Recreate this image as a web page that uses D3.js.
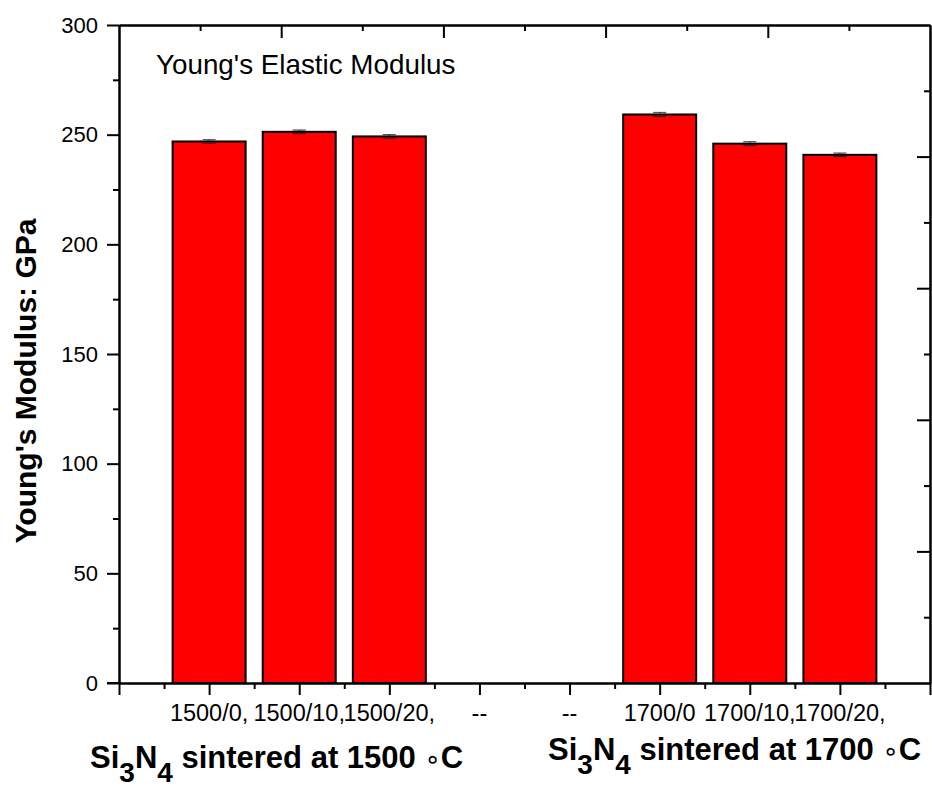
<!DOCTYPE html>
<html>
<head>
<meta charset="utf-8">
<script src="https://cdn.jsdelivr.net/npm/d3@7"></script>
<style>
  body { margin: 0; background: #fff; }
  svg { display: block; font-family: "Liberation Sans", Arial, sans-serif; }
</style>
</head>
<body>
<script>
// data
var categories = ["1500/0,", "1500/10,", "1500/20,", "--", "--", "1700/0", "1700/10,", "1700/20,"];
var positions = [1, 2, 3, 4, 5, 6, 7, 8];
var barPos = [1, 2, 3, 6, 7, 8];
var modulus = [246.9, 251.3, 249.2, 259.2, 245.9, 240.8];
var errors = [0.8, 0.8, 0.8, 0.9, 0.9, 0.8];
var yMajor = [0, 50, 100, 150, 200, 250, 300];
var yMinor = [25, 75, 125, 175, 225, 275];

var W = 932, H = 787;
var mLeft = 119, mRight = 930, mTop = 25, mBottom = 683;

var svg = d3.select("body")
  .append("svg")
  .attr("width", W)
  .attr("height", H);

var x = d3.scaleLinear().domain([0, 9]).range([mLeft, mRight]);
var y = d3.scaleLinear().domain([0, 300]).range([mBottom, mTop]);
// top / right mirror axes use 10 divisions
var xt = d3.scaleLinear().domain([0, 10]).range([mLeft, mRight]);
var yr = d3.scaleLinear().domain([0, 10]).range([mBottom, mTop]);

var barW = x(0.81) - x(0);

// bars
svg.selectAll("rect.bar")
  .data(modulus)
  .enter()
  .append("rect")
  .attr("class", "bar")
  .attr("x", function(d, i){ return x(barPos[i]) - barW / 2; })
  .attr("y", function(d){ return y(d); })
  .attr("width", barW)
  .attr("height", function(d){ return y(0) - y(d); })
  .attr("fill", "#ff0000")
  .attr("stroke", "#000")
  .attr("stroke-width", 2);

// error bars
var eb = svg.selectAll("g.err")
  .data(modulus)
  .enter()
  .append("g")
  .attr("class", "err")
  .attr("stroke", "#222")
  .attr("stroke-opacity", 0.75)
  .attr("stroke-width", 1.3);
eb.append("line")
  .attr("x1", function(d, i){ return x(barPos[i]); })
  .attr("x2", function(d, i){ return x(barPos[i]); })
  .attr("y1", function(d, i){ return y(d + errors[i]); })
  .attr("y2", function(d, i){ return y(d - errors[i]); });
eb.selectAll("line.cap")
  .data(function(d, i){ return [[i, d + errors[i]], [i, d - errors[i]]]; })
  .enter()
  .append("line")
  .attr("class", "cap")
  .attr("x1", function(d){ return x(barPos[d[0]]) - 6.5; })
  .attr("x2", function(d){ return x(barPos[d[0]]) + 6.5; })
  .attr("y1", function(d){ return y(d[1]); })
  .attr("y2", function(d){ return y(d[1]); });

function styleAxis(g){
  g.selectAll("path").attr("stroke", "#000").attr("stroke-width", 2);
  g.selectAll("line").attr("stroke", "#000").attr("stroke-width", 2);
  g.selectAll("text").attr("fill", "#000");
}

// left axis
svg.append("g")
  .attr("transform", "translate(" + mLeft + ",0)")
  .call(d3.axisLeft(y).tickValues(yMajor).tickSize(12).tickSizeOuter(0).tickPadding(9))
  .call(styleAxis)
  .attr("font-size", 22)
  .attr("font-family", "Liberation Sans, Arial, sans-serif");
svg.append("g")
  .attr("transform", "translate(" + mLeft + ",0)")
  .call(d3.axisLeft(y).tickValues(yMinor).tickSize(6).tickSizeOuter(0).tickFormat(""))
  .call(styleAxis);

// bottom axis
svg.append("g")
  .attr("transform", "translate(0," + mBottom + ")")
  .call(d3.axisBottom(x).tickValues(d3.range(0, 10)).tickSize(12).tickSizeOuter(0).tickFormat(""))
  .call(styleAxis);
svg.append("g")
  .attr("transform", "translate(0," + mBottom + ")")
  .call(d3.axisBottom(x).tickValues(d3.range(0.5, 9, 1)).tickSize(6).tickSizeOuter(0).tickFormat(""))
  .call(styleAxis);
// extend bottom line under the 0 tick
svg.append("line")
  .attr("x1", mLeft - 12).attr("x2", mLeft)
  .attr("y1", mBottom).attr("y2", mBottom)
  .attr("stroke", "#000").attr("stroke-width", 2);

// top axis (ticks inward)
svg.append("g")
  .attr("transform", "translate(0," + mTop + ")")
  .call(d3.axisBottom(xt).tickValues([2, 4, 6, 8]).tickSize(13).tickSizeOuter(0).tickFormat(""))
  .call(styleAxis);
svg.append("g")
  .attr("transform", "translate(0," + mTop + ")")
  .call(d3.axisBottom(xt).tickValues([1, 3, 5, 7, 9]).tickSize(6).tickSizeOuter(0).tickFormat(""))
  .call(styleAxis);

// right axis (ticks inward)
svg.append("g")
  .attr("transform", "translate(" + mRight + ",0)")
  .call(d3.axisLeft(yr).tickValues([2, 4, 6, 8]).tickSize(13).tickSizeOuter(0).tickFormat(""))
  .call(styleAxis);
svg.append("g")
  .attr("transform", "translate(" + mRight + ",0)")
  .call(d3.axisLeft(yr).tickValues([1, 3, 5, 7, 9]).tickSize(6).tickSizeOuter(0).tickFormat(""))
  .call(styleAxis);

// category labels
svg.selectAll("text.cat")
  .data(categories)
  .enter()
  .append("text")
  .attr("class", "cat")
  .attr("x", function(d, i){ return x(positions[i]); })
  .attr("y", 721)
  .attr("text-anchor", "middle")
  .attr("font-size", 23.5)
  .text(function(d){ return d; });

// inner title
svg.append("text")
  .attr("x", 156)
  .attr("y", 74)
  .attr("font-size", 27.8)
  .text("Young's Elastic Modulus");

// y axis title
svg.append("text")
  .attr("transform", "translate(36,381) rotate(-90)")
  .attr("text-anchor", "middle")
  .attr("font-size", 30)
  .attr("font-weight", "bold")
  .text("Young's Modulus: GPa");

// group labels
function groupLabel(x0, y0, temp){
  var t = svg.append("text")
    .attr("x", x0)
    .attr("y", y0)
    .attr("font-size", 31)
    .attr("font-weight", "bold");
  t.append("tspan").text("Si");
  t.append("tspan").attr("dy", 14).attr("font-size", 28).text("3");
  t.append("tspan").attr("dy", -14).text("N");
  t.append("tspan").attr("dy", 14).attr("font-size", 28).text("4");
  t.append("tspan").attr("dy", -14).text(" sintered at " + temp + " ");
  t.append("tspan").attr("font-weight", "normal").attr("font-family", "DejaVu Sans").attr("font-size", 26).text("\u2218");
  t.append("tspan").text("C");
}
groupLabel(90, 768, "1500");
groupLabel(548, 760, "1700");
</script>
</body>
</html>
